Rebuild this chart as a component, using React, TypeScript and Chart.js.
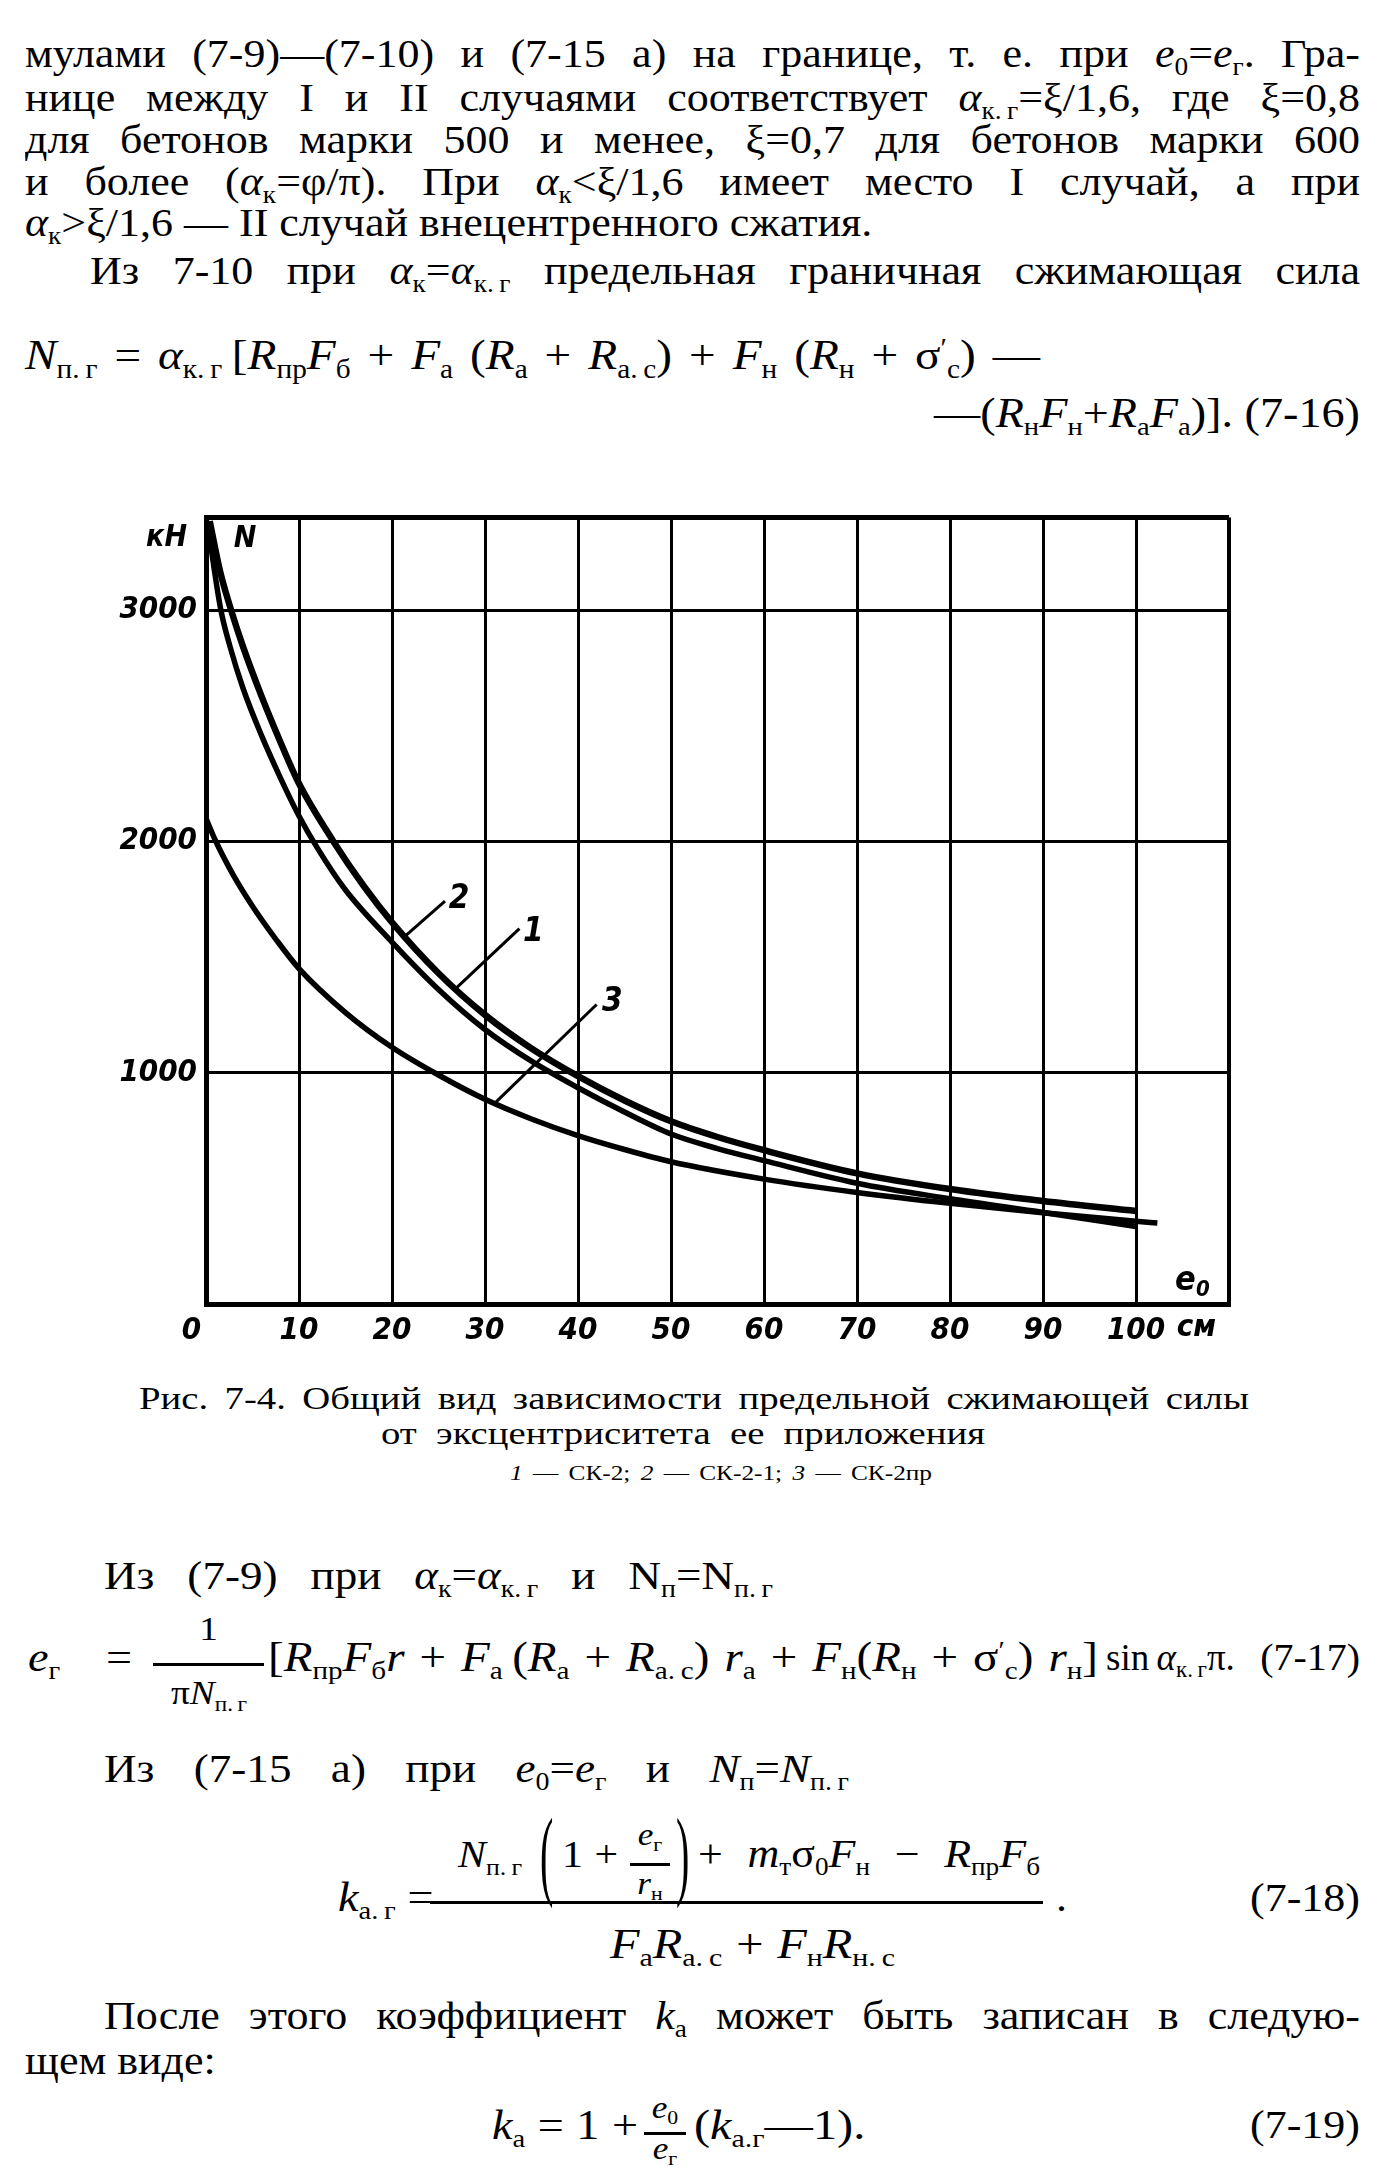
import React, { useEffect, useRef } from 'react';
import { Chart, registerables } from 'chart.js';

Chart.register(...registerables);

// ---- chart data ----
const curveNames = ['СК-2', 'СК-2-1', 'СК-2пр'];
const eccentricity1 = [0.15, 0.8, 1.6, 2.6, 4, 6, 8, 10, 12, 15, 20, 25, 30, 35, 40, 45, 50, 55, 60, 70, 80, 90, 100];
const force1 = [3385, 3200, 3000, 2840, 2660, 2455, 2275, 2110, 1970, 1790, 1565, 1360, 1187, 1050, 935, 830, 735, 672, 620, 522, 455, 396, 335];
const eccentricity2 = [0.4, 1.5, 2.7, 4, 6, 8, 10, 13.7, 17, 20, 25, 30, 35, 40, 45, 50, 55, 60, 70, 80, 90, 100];
const force2 = [3385, 3170, 3000, 2840, 2625, 2430, 2250, 2000, 1805, 1650, 1430, 1250, 1105, 985, 880, 790, 722, 665, 565, 497, 445, 402];
const eccentricity3 = [0, 1, 3, 5, 7.5, 10, 15, 20, 25, 30, 35, 40, 45, 50, 60, 70, 80, 90, 100, 102.3];
const force3 = [2100, 2005, 1850, 1720, 1578, 1450, 1260, 1110, 990, 885, 800, 728, 668, 615, 540, 482, 435, 395, 358, 350];

const xTickValues = [0, 10, 20, 30, 40, 50, 60, 70, 80, 90, 100, 110];
const xTickLabels = ['0   ', '10', '20', '30', '40', '50', '60', '70', '80', '90', '100', ''];
const yTickValues = [0, 1000, 2000, 3000, 3400];
const yTickLabels = ['', '1000', '2000', '3000', ''];

const curveLabelText = ['1', '2', '3'];
const curveLabelX = [35.2, 27.2, 43.7];
const curveLabelN = [1605, 1749, 1302];
const leaderFromX = [26.9, 21.5, 31.2];
const leaderFromN = [1366, 1594, 874];
const leaderToX = [33.7, 25.7, 42.0];
const leaderToN = [1623, 1742, 1295];

const unitForce = 'кН';
const forceSymbol = 'N';
const eccSymbol = 'e';
const eccSub = '0';
const unitEcc = 'см';

const chartFamily = "'Liberation Sans Narrow', 'DejaVu Sans Condensed', 'DejaVu Sans', sans-serif";
const chartFont = (size: number) => `italic bold ${size}px ${chartFamily}`;

const annotationPlugin = {
  id: 'pageAnnotations',
  afterDatasetsDraw(chart: any) {
    const { ctx, scales } = chart;
    const x = scales.x;
    const y = scales.y;
    ctx.save();
    ctx.fillStyle = '#000';
    ctx.strokeStyle = '#000';
    ctx.lineWidth = 3;
    ctx.lineCap = 'butt';
    for (let i = 0; i < curveLabelText.length; i++) {
      ctx.beginPath();
      ctx.moveTo(x.getPixelForValue(leaderFromX[i]), y.getPixelForValue(leaderFromN[i]));
      ctx.lineTo(x.getPixelForValue(leaderToX[i]), y.getPixelForValue(leaderToN[i]));
      ctx.stroke();
      ctx.font = chartFont(33);
      ctx.textAlign = 'center';
      ctx.textBaseline = 'middle';
      ctx.fillText(curveLabelText[i], x.getPixelForValue(curveLabelX[i]), y.getPixelForValue(curveLabelN[i]));
    }
    ctx.font = chartFont(30);
    ctx.textAlign = 'right';
    ctx.textBaseline = 'middle';
    ctx.fillText(unitForce, x.getPixelForValue(0) - 19, y.getPixelForValue(3310));
    ctx.textAlign = 'center';
    ctx.fillText(forceSymbol, x.getPixelForValue(4.2), y.getPixelForValue(3306));
    ctx.font = chartFont(34);
    ctx.fillText(eccSymbol, x.getPixelForValue(105.3), y.getPixelForValue(100));
    ctx.font = chartFont(22);
    ctx.fillText(eccSub, x.getPixelForValue(107.2), y.getPixelForValue(60));
    ctx.font = chartFont(31);
    ctx.fillText(unitEcc, x.getPixelForValue(106.5), y.getPixelForValue(0) + 24);
    ctx.restore();
  },
};

function ChartBox() {
  const ref = useRef<HTMLCanvasElement>(null);
  useEffect(() => {
    if (!ref.current) return;
    const mk = (xs: number[], ys: number[], w: number, name: string) => ({
      label: name,
      data: xs.map((v, i) => ({ x: v, y: ys[i] })),
      borderColor: '#000',
      backgroundColor: '#000',
      borderWidth: w,
      pointRadius: 0,
      cubicInterpolationMode: 'monotone' as const,
      fill: false,
    });
    const tickFont = { family: chartFamily, size: 31, style: 'italic' as const, weight: 'bold' as const };
    const chart = new Chart(ref.current, {
      type: 'line',
      data: {
        datasets: [
          mk(eccentricity1, force1, 5.5, curveNames[0]),
          mk(eccentricity2, force2, 6.5, curveNames[1]),
          mk(eccentricity3, force3, 5.5, curveNames[2]),
        ],
      },
      options: {
        responsive: false,
        animation: false,
        layout: { padding: { top: 21, right: 71, left: 0, bottom: 0 } },
        plugins: { legend: { display: false }, tooltip: { enabled: false } },
        scales: {
          x: {
            type: 'linear',
            min: 0,
            max: 110,
            afterBuildTicks: (s: any) => { s.ticks = xTickValues.map((v) => ({ value: v })); },
            afterFit: (s: any) => { s.height = 66; },
            ticks: {
              callback: (v: any) => xTickLabels[xTickValues.indexOf(Number(v))] ?? '',
              font: tickFont,
              color: '#000',
              padding: 8,
              maxRotation: 0,
              autoSkip: false,
            },
            grid: {
              color: '#000',
              lineWidth: (c: any) => (c.tick && c.tick.value === 110 ? 4 : 3),
              drawTicks: false,
            },
            border: { display: true, color: '#000', width: 5 },
          },
          y: {
            type: 'linear',
            min: 0,
            max: 3400,
            afterBuildTicks: (s: any) => { s.ticks = yTickValues.map((v) => ({ value: v })); },
            afterFit: (s: any) => { s.width = 106; },
            ticks: {
              callback: (v: any) => yTickLabels[yTickValues.indexOf(Number(v))] ?? '',
              font: tickFont,
              color: '#000',
              padding: 9,
              autoSkip: false,
            },
            grid: {
              color: '#000',
              lineWidth: (c: any) => (c.tick && c.tick.value === 3400 ? 5 : 3),
              drawTicks: false,
            },
            border: { display: true, color: '#000', width: 5 },
          },
        },
      } as any,
      plugins: [annotationPlugin],
    });
    return () => chart.destroy();
  }, []);
  return (
    <div style={{ position: 'absolute', left: 100, top: 490, width: 1200, height: 880 }}>
      <canvas ref={ref} width={1200} height={880} />
    </div>
  );
}

// ---- page text ----
const serif = "'Liberation Serif', 'Times New Roman', serif";
const T = '\u2009';

function Sub({ children }: { children: any }) {
  return <span style={{ fontSize: '0.62em', position: 'relative', top: '0.32em', lineHeight: 0 }}>{children}</span>;
}
function Sup({ children }: { children: any }) {
  return <span style={{ fontSize: '0.62em', position: 'relative', top: '-0.45em', lineHeight: 0 }}>{children}</span>;
}
const I = ({ children }: { children: any }) => <i>{children}</i>;

function Line({ c, left = 25, width = 1335, size = 40, sx = 1.1, justify = true, align, children }: any) {
  const ta = align ?? (justify ? 'justify' : 'left');
  return (
    <div
      style={{
        position: 'absolute',
        top: c - Math.round(size * 0.62),
        left,
        width: width / sx,
        transform: `scaleX(${sx})`,
        transformOrigin: 'left top',
        fontFamily: serif,
        fontSize: size,
        lineHeight: `${size}px`,
        whiteSpace: 'nowrap',
        textAlign: ta,
        textAlignLast: ta as any,
        color: '#000',
      }}
    >
      {children}
    </div>
  );
}

function Bar({ x1, x2, y }: { x1: number; x2: number; y: number }) {
  return <div style={{ position: 'absolute', left: x1, top: y - 1, width: x2 - x1, height: 2.5, background: '#000' }} />;
}

function BigParen({ x, cy, ch }: { x: number; cy: number; ch: string }) {
  return (
    <div
      style={{
        position: 'absolute',
        left: x,
        top: cy - 24,
        fontFamily: serif,
        fontSize: 40,
        lineHeight: '40px',
        transform: 'scaleY(2.5)',
        transformOrigin: 'center 24px',
      }}
    >
      {ch}
    </div>
  );
}

export default function App() {
  return (
    <div style={{ position: 'absolute', left: 0, top: 0, width: 1397, height: 2175, background: '#fff', overflow: 'hidden' }}>
      <Line c={59}>
        мулами (7-9)—(7-10) и (7-15 а) на границе, т. е. при <I>e</I><Sub>0</Sub>=<I>e</I><Sub>г</Sub>. Гра-
      </Line>
      <Line c={103}>
        нице между I и II случаями соответствует <I>α</I><Sub>{`к.${T}г`}</Sub>=ξ/1,6, где ξ=0,8
      </Line>
      <Line c={145}>для бетонов марки 500 и менее, ξ=0,7 для бетонов марки 600</Line>
      <Line c={187}>
        и более (<I>α</I><Sub>к</Sub>=φ/π). При <I>α</I><Sub>к</Sub>&lt;ξ/1,6 имеет место I случай, а при
      </Line>
      <Line c={228} justify={false}>
        <I>α</I><Sub>к</Sub>&gt;ξ/1,6 — II случай внецентренного сжатия.
      </Line>
      <Line c={276} left={90} width={1270}>
        Из 7-10 при <I>α</I><Sub>к</Sub>=<I>α</I><Sub>{`к.${T}г`}</Sub> предельная граничная сжимающая сила
      </Line>
      <Line c={360} left={25} width={1015} size={43}>
        <I>N</I><Sub>{`п.${T}г`}</Sub> = <I>α</I><Sub>{`к.${T}г`}</Sub>{T}[<I>R</I><Sub>пр</Sub><I>F</I><Sub>б</Sub> + <I>F</I><Sub>а</Sub> (<I>R</I><Sub>а</Sub> + <I>R</I><Sub>{`а.${T}с`}</Sub>) + <I>F</I><Sub>н</Sub> (<I>R</I><Sub>н</Sub> + σ<Sup>′</Sup><Sub>с</Sub>) —
      </Line>
      <Line c={418} left={700} width={660} align="right" size={42}>
        —(<I>R</I><Sub>н</Sub><I>F</I><Sub>н</Sub>+<I>R</I><Sub>а</Sub><I>F</I><Sub>а</Sub>)]. (7-16)
      </Line>

      <ChartBox />

      <Line c={1402} left={139} width={1110} size={31} sx={1.25}>
        Рис. 7-4. Общий вид зависимости предельной сжимающей силы
      </Line>
      <Line c={1437} left={381} width={604} size={31} sx={1.25}>
        от эксцентриситета ее приложения
      </Line>
      <Line c={1476} left={510} width={422} size={22} sx={1.15}>
        <I>1</I> — СК-2;  <I>2</I> — СК-2-1;  <I>3</I> — СК-2пр
      </Line>

      <Line c={1580} left={104} width={669} size={41}>
        Из (7-9) при <I>α</I><Sub>к</Sub>=<I>α</I><Sub>{`к.${T}г`}</Sub> и N<Sub>п</Sub>=N<Sub>{`п.${T}г`}</Sub>
      </Line>

      {/* (7-17) */}
      <Line c={1662} left={28} width={104} size={42}>
        <I>e</I><Sub>г</Sub> =
      </Line>
      <Line c={1633} left={153} width={111} align="center" size={34}>1</Line>
      <Bar x1={153} x2={264} y={1664} />
      <Line c={1697} left={148} width={122} align="center" size={34}>
        π<I>N</I><Sub>{`п.${T}г`}</Sub>
      </Line>
      <Line c={1662} left={268} width={830} size={42} sx={1.12}>
        [<I>R</I><Sub>пр</Sub><I>F</I><Sub>б</Sub><I>r</I> + <I>F</I><Sub>а</Sub>{T}(<I>R</I><Sub>а</Sub> + <I>R</I><Sub>{`а.${T}с`}</Sub>) <I>r</I><Sub>а</Sub> + <I>F</I><Sub>н</Sub>(<I>R</I><Sub>н</Sub> + σ<Sup>′</Sup><Sub>с</Sub>) <I>r</I><Sub>н</Sub>]
      </Line>
      <Line c={1662} left={1106} width={140} justify={false} size={37} sx={1}>
        sin{T}<I>α</I><Sub>{`к.${T}г`}</Sub>π.
      </Line>
      <Line c={1662} left={1200} width={160} align="right" size={38} sx={1.05}>(7-17)</Line>

      <Line c={1773} left={104} width={745} size={41}>
        Из (7-15 а) при <I>e</I><Sub>0</Sub>=<I>e</I><Sub>г</Sub> и <I>N</I><Sub>п</Sub>=<I>N</I><Sub>{`п.${T}г`}</Sub>
      </Line>

      {/* (7-18) */}
      <Line c={1902} left={338} width={85} size={42}>
        <I>k</I><Sub>{`а.${T}г`}</Sub> =
      </Line>
      <Line c={1859} left={458} width={80} justify={false} size={38}>
        <I>N</I><Sub>{`п.${T}г`}</Sub>
      </Line>
      <BigParen x={540} cy={1864} ch="(" />
      <Line c={1859} left={562} width={56} size={38}>1 +</Line>
      <Line c={1838} left={630} width={40} align="center" size={32}><I>e</I><Sub>г</Sub></Line>
      <Bar x1={630} x2={670} y={1864} />
      <Line c={1887} left={628} width={44} align="center" size={32}><I>r</I><Sub>н</Sub></Line>
      <BigParen x={676} cy={1864} ch=")" />
      <Line c={1859} left={698} width={342} size={40}>
        + <I>m</I><Sub>т</Sub>σ<Sub>0</Sub><I>F</I><Sub>н</Sub> − <I>R</I><Sub>пр</Sub><I>F</I><Sub>б</Sub>
      </Line>
      <Bar x1={430} x2={1043} y={1902} />
      <Line c={1949} left={610} width={285} size={42} sx={1.15}>
        <I>F</I><Sub>а</Sub><I>R</I><Sub>{`а.${T}с`}</Sub> + <I>F</I><Sub>н</Sub><I>R</I><Sub>{`н.${T}с`}</Sub>
      </Line>
      <Line c={1903} left={1056} width={20} justify={false}>.</Line>
      <Line c={1903} left={1200} width={160} align="right" size={40}>(7-18)</Line>

      <Line c={2021} left={104} width={1256}>
        После этого коэффициент <I>k</I><Sub>а</Sub> может быть записан в следую-
      </Line>
      <Line c={2066} justify={false}>щем виде:</Line>

      {/* (7-19) */}
      <Line c={2130} left={492} width={146} size={42}>
        <I>k</I><Sub>а</Sub> = 1 +
      </Line>
      <Line c={2111} left={642} width={46} align="center" size={32}><I>e</I><Sub>0</Sub></Line>
      <Bar x1={644} x2={686} y={2133} />
      <Line c={2152} left={642} width={46} align="center" size={32}><I>e</I><Sub>г</Sub></Line>
      <Line c={2130} left={694} width={260} justify={false} size={42} sx={1.15}>
        (<I>k</I><Sub>а.г</Sub>—1).
      </Line>
      <Line c={2130} left={1200} width={160} align="right" size={40}>(7-19)</Line>
    </div>
  );
}
